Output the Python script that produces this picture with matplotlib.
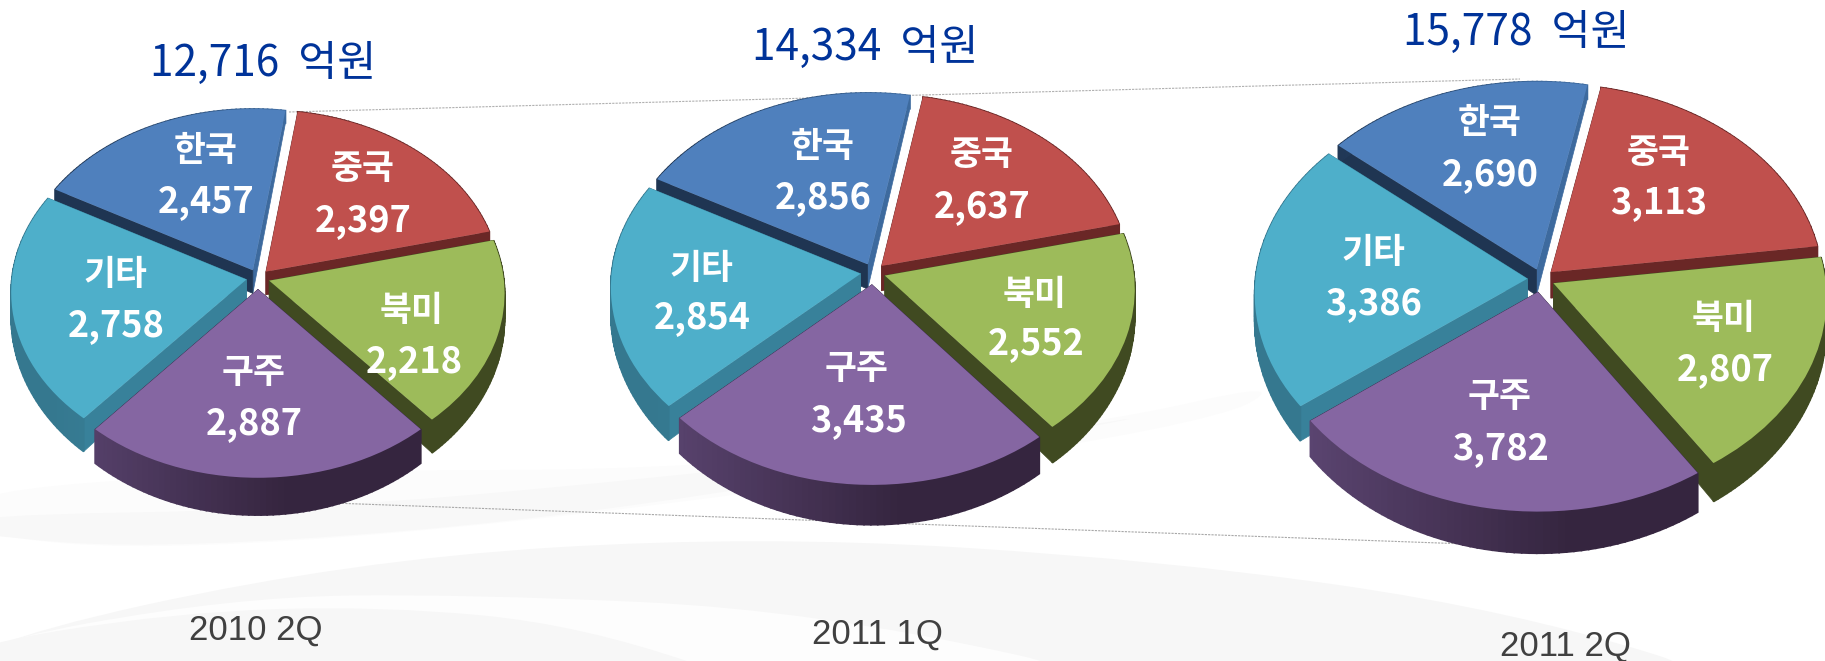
import numpy as np
import matplotlib
matplotlib.use("Agg")
import matplotlib.pyplot as plt
from matplotlib.patches import PathPatch
from matplotlib.path import Path
from matplotlib.transforms import Transform

plt.rcParams['font.family'] = ['Noto Sans CJK KR', 'DejaVu Sans']

# ===============================
# data
# ===============================
regions = ["중국", "북미", "구주", "기타", "한국"]
sales_2010_2q = [2397, 2218, 2887, 2758, 2457]
sales_2011_1q = [2637, 2552, 3435, 2854, 2856]
sales_2011_2q = [3113, 2807, 3782, 3386, 2690]
periods = ["2010 2Q", "2011 1Q", "2011 2Q"]
totals = ["12,716  억원", "14,334  억원", "15,778  억원"]

# ===============================
# styling / layout (pixels)
# ===============================
W, H = 1825, 661
top_colors = ["#c0504d", "#9dbb5a", "#8566a2", "#4eafca", "#4f80bd"]
wall_start = ["#6a2726", "#404a21", "#3a2a4a", "#38819a", "#3d6a9e"]
wall_end = ["#6a2726", "#404a21", "#3a2a4a", "#38819a", "#1f3552"]
arc_colors = [("#6a2726", "#6a2726"), ("#404a21", "#404a21"),
              ("#35253f", "#5a4470"), ("#3d8aa5", "#35788f"), ("#3d6a9e", "#1f3552")]
explode = [0.05, 0.05, 0.065, 0.05, 0.05]
draw_order = [4, 0, 3, 1, 2]
persp = 0.07

pie_cx = [258, 873, 1541]
pie_cy = [278, 272.6, 279]
pie_rx = [234.5, 249, 272]
pie_ry = [173.6, 184.5, 202.3]
pie_start = [81.5, 79.6, 78.5]
pie_thick = [0.195, 0.196, 0.187]

name_xy = [
    [(363, 169), (412, 310), (254, 372), (116, 275), (206, 150)],
    [(982, 155), (1035, 294), (857, 369), (702, 268), (823, 147)],
    [(1659, 152), (1724, 319), (1500, 397), (1374, 252), (1490, 123)],
]
value_xy = [
    [(363, 221), (414, 362), (254, 424), (116, 326), (206, 202)],
    [(982, 207), (1036, 344), (858, 421), (702, 318), (823, 198)],
    [(1659, 203), (1725, 370), (1501, 449), (1374, 304), (1490, 175)],
]
total_xy = [(263, 64), (865, 48), (1516, 33)]
period_xy = [(256, 630), (877, 634), (1565, 646)]


def project(x, y):
    # back of the pie is a bit smaller than the front
    s = 1 / (1 + persp * y)
    return x * s, y * s


class Persp(Transform):
    input_dims = 2
    output_dims = 2
    is_separable = False
    has_inverse = False

    def transform_non_affine(self, values):
        x, y = project(values[:, 0], values[:, 1])
        return np.column_stack([x, y])


def swoosh(ax, pts, color):
    # closed smooth shape through the midpoints of pts
    pts = np.array(pts, dtype=float)
    mids = (pts + np.roll(pts, -1, axis=0)) / 2
    verts = [mids[-1]]
    codes = [Path.MOVETO]
    for i in range(len(pts)):
        verts += [pts[i], mids[i]]
        codes += [Path.CURVE3, Path.CURVE3]
    ax.add_patch(PathPatch(Path(verts, codes), facecolor=color, edgecolor="none"))


def mix(c1, c2, t):
    a = np.array(matplotlib.colors.to_rgb(c1))
    b = np.array(matplotlib.colors.to_rgb(c2))
    return tuple(a + (b - a) * t)


def draw_pie(fig, values, cx, cy, rx, ry, start, thick):
    L = 1.45
    ax = fig.add_axes([(cx - L * rx) / W, 1 - (cy + L * ry) / H,
                       2 * L * rx / W, 2 * L * ry / H], zorder=2)
    wedges, _ = ax.pie(values, startangle=start, counterclock=False, explode=explode,
                       colors=top_colors, wedgeprops={"linewidth": 0})
    ax.set_aspect("auto")
    ax.set_xlim(-L, L)
    ax.set_ylim(-L, L)
    ax.patch.set_alpha(0)

    def side(x1, y1, x2, y2, col, lw, z):
        # quad from edge (x1,y1)-(x2,y2) down to the bottom of the pie
        xa, ya = project(x1, y1)
        xb, yb = project(x2, y2)
        ax.fill([xa, xb, xb, xa],
                [ya, yb, yb - thick * (0.7 - 0.35 * yb), ya - thick * (0.7 - 0.35 * ya)],
                color=col, lw=lw, zorder=z)

    for k, i in enumerate(draw_order):
        w = wedges[i]
        x0, y0 = w.center
        z = 10 + k * 3
        w.set_zorder(z + 2)
        w.set_transform(Persp() + ax.transData)
        for theta, col in ((w.theta1, wall_start[i]), (w.theta2, wall_end[i])):
            xe = x0 + np.cos(np.radians(theta))
            ye = y0 + np.sin(np.radians(theta))
            side(x0, y0, xe, ye, col, 0.5, z)
        angles = np.linspace(w.theta1, w.theta2, 60)
        for a, b in zip(angles[:-1], angles[1:]):
            xa, ya = x0 + np.cos(np.radians(a)), y0 + np.sin(np.radians(a))
            xb, yb = x0 + np.cos(np.radians(b)), y0 + np.sin(np.radians(b))
            t = np.clip((-xa + x0 + 0.1) / 0.9, 0, 1)
            side(xa, ya, xb, yb, mix(arc_colors[i][0], arc_colors[i][1], t), 1.2, z + 1)


# ===============================
# figure
# ===============================
fig = plt.figure(figsize=(W / 100, H / 100), dpi=100, facecolor="white")

# background swooshes and thin connector lines
bg = fig.add_axes([0, 0, 1, 1], zorder=0)
bg.set_xlim(0, W)
bg.set_ylim(H, 0)
bg.axis("off")
swoosh(bg, [(-40, 490), (300, 470), (700, 470), (1094, 425), (1290, 380), (1210, 425),
            (630, 512), (175, 552), (-40, 535)], "#fcfcfc")
swoosh(bg, [(-40, 515), (300, 510), (640, 480), (1000, 440), (1210, 405), (630, 512),
            (175, 550), (-40, 535)], "#f8f8f8")
swoosh(bg, [(-60, 650), (350, 560), (757, 535), (1164, 560), (1513, 610), (1800, 700),
            (700, 720), (-60, 720)], "#f7f7f7")
swoosh(bg, [(-60, 650), (233, 597), (466, 594), (815, 610), (1220, 700), (-60, 720)], "#fdfdfd")
swoosh(bg, [(-60, 650), (175, 612), (384, 606), (582, 625), (800, 700), (-60, 700)], "#f7f7f7")
bg.plot([289, 1520], [112, 79], color="#b0b0b0", lw=0.8, ls=(0, (2, 1)))
bg.plot([332, 1467], [503, 544], color="#a8a8a8", lw=0.8, ls=(0, (2, 1)))

all_sales = [sales_2010_2q, sales_2011_1q, sales_2011_2q]
for n in range(3):
    draw_pie(fig, all_sales[n], pie_cx[n], pie_cy[n], pie_rx[n], pie_ry[n],
             pie_start[n], pie_thick[n])

# texts on top
top = fig.add_axes([0, 0, 1, 1], zorder=5)
top.set_xlim(0, W)
top.set_ylim(H, 0)
top.axis("off")
for n in range(3):
    for i in range(len(regions)):
        top.text(name_xy[n][i][0], name_xy[n][i][1], regions[i], color="white",
                 fontsize=25, fontweight="bold", ha="center", va="center")
        top.text(value_xy[n][i][0], value_xy[n][i][1], f"{all_sales[n][i]:,}", color="white",
                 fontsize=26, fontweight="bold", ha="center", va="center")
    top.text(total_xy[n][0], total_xy[n][1], totals[n], color="#003399",
             fontsize=30.5, ha="center", va="center")
    top.text(period_xy[n][0], period_xy[n][1], periods[n], color="#404040",
             fontsize=25, family="Liberation Sans", ha="center", va="center")

fig.savefig("out.png", dpi=100)
